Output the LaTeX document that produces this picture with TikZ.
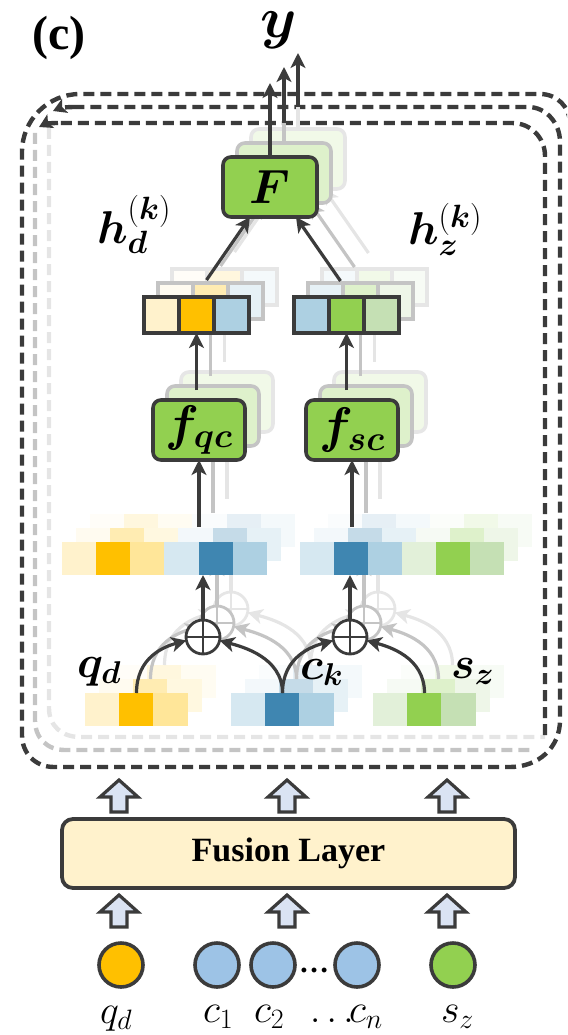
\RequirePackage{fix-cm}
\documentclass[tikz,border=0pt]{standalone}
\usepackage{amsmath}
\usepackage{bm}
\usepackage{fontspec}
\newfontfamily\timesfamily{Liberation Serif}
\usetikzlibrary{arrows.meta,calc}

\definecolor{ink}{HTML}{3B3B3B}
\definecolor{leaf}{HTML}{92D050}
\definecolor{leafpale}{HTML}{C5E0B4}
\definecolor{leafmist}{HTML}{E2F0D9}
\definecolor{amber}{HTML}{FFC000}
\definecolor{amberpale}{HTML}{FFE699}
\definecolor{cream}{HTML}{FFF2CC}
\definecolor{deepblue}{HTML}{3F86B1}
\definecolor{skyblue}{HTML}{ADD0E2}
\definecolor{mistblue}{HTML}{D6E8F1}
\definecolor{dotblue}{HTML}{9DC3E6}
\definecolor{lavender}{HTML}{DAE3F3}

\newcommand\fs[1]{\fontsize{#1}{#1}\selectfont}

% One copy of the per-candidate stage: #1 name suffix, #2 colour strength (percent)
\newcommand\stagelayer[2]{%
  \colorlet{sk}{ink!#2!white}%
  \colorlet{scream}{cream!#2!white}%
  \colorlet{samber}{amber!#2!white}%
  \colorlet{samberp}{amberpale!#2!white}%
  \colorlet{smist}{mistblue!#2!white}%
  \colorlet{sdeep}{deepblue!#2!white}%
  \colorlet{ssky}{skyblue!#2!white}%
  \colorlet{sleafm}{leafmist!#2!white}%
  \colorlet{sleaf}{leaf!#2!white}%
  \colorlet{sleafp}{leafpale!#2!white}%
  % input embeddings
  \node[cell,fill=scream]  (qa#1) at (102.5,709.5) {};
  \node[cell,fill=samber]  (qb#1) at (136.5,709.5) {};
  \node[cell,fill=samberp] (qc#1) at (170.5,709.5) {};
  \node[cell,fill=smist]   (ca#1) at (248.5,709.5) {};
  \node[cell,fill=sdeep]   (cb#1) at (282.5,709.5) {};
  \node[cell,fill=ssky]    (cc#1) at (316.5,709.5) {};
  \node[cell,fill=sleafm]  (sa#1) at (390.5,709.5) {};
  \node[cell,fill=sleaf]   (sb#1) at (424.5,709.5) {};
  \node[cell,fill=sleafp]  (sc#1) at (458.5,709.5) {};
  % paired rows
  \node[cell,fill=scream]  (la#1) at (79.5,558.5) {};
  \node[cell,fill=samber]  (lb#1) at (113.6,558.5) {};
  \node[cell,fill=samberp] (lc#1) at (147.7,558.5) {};
  \node[cell,fill=smist]   (ld#1) at (181.8,558.5) {};
  \node[cell,fill=sdeep]   (le#1) at (215.9,558.5) {};
  \node[cell,fill=ssky]    (lf#1) at (250.0,558.5) {};
  \node[cell,fill=smist]   (ra#1) at (317,558.5) {};
  \node[cell,fill=sdeep]   (rb#1) at (351,558.5) {};
  \node[cell,fill=ssky]    (rc#1) at (385,558.5) {};
  \node[cell,fill=sleafm]  (rd#1) at (419,558.5) {};
  \node[cell,fill=sleaf]   (re#1) at (453,558.5) {};
  \node[cell,fill=sleafp]  (rf#1) at (487,558.5) {};
  % adders
  \node[adder,draw=sk] (pl#1) at (203,637) {};
  \node[adder,draw=sk] (pr#1) at (350,637) {};
  \draw[sk,line width=2.8pt] (pl#1.north) -- (pl#1.south) (pl#1.west) -- (pl#1.east)
                             (pr#1.north) -- (pr#1.south) (pr#1.west) -- (pr#1.east);
  \draw[link,sk] (qb#1.north) .. controls +(0,-36) and +(-22,6) .. (pl#1.192);
  \draw[link,sk] (cb#1.north) .. controls +(0,-36) and +(22,6) .. (pl#1.-12);
  \draw[link,sk] (cb#1.north) .. controls +(0,-36) and +(-22,6) .. (pr#1.192);
  \draw[link,sk] (sb#1.north) .. controls +(0,-36) and +(22,6) .. (pr#1.-12);
  \draw[link,sk] (pl#1.north) -- (pl#1.north |- le#1.south);
  \draw[link,sk] (pr#1.north) -- (pr#1.north |- rb#1.south);
  % pair encoders
  \node[fbox,draw=sk,fill=sleaf] (fq#1) at (199,430) {};
  \node[fbox,draw=sk,fill=sleaf] (fs#1) at (352,430) {};
  \draw[link,sk] ($(fq#1.south |- le#1.north)+(0,-15)$) -- (fq#1.south);
  \draw[link,sk] ($(fs#1.south |- rb#1.north)+(0,-15)$) -- (fs#1.south);
  % pair representations
  \node[vcell,draw=sk,fill=scream] (ha#1) at (161.5,315) {};
  \node[vcell,draw=sk,fill=samber] (hb#1) at (196.5,315) {};
  \node[vcell,draw=sk,fill=ssky]   (hc#1) at (231.5,315) {};
  \node[vcell,draw=sk,fill=ssky]   (za#1) at (311.5,315) {};
  \node[vcell,draw=sk,fill=sleaf]  (zb#1) at (346.5,315) {};
  \node[vcell,draw=sk,fill=sleafp] (zc#1) at (381.5,315) {};
  \draw[link,sk] ($(hb#1.south |- fq#1.north)+(0,-10)$) -- (hb#1.south);
  \draw[link,sk] ($(zb#1.south |- fs#1.north)+(0,-10)$) -- (zb#1.south);
  % fusion of both views
  \node[fbox,minimum width=94pt,draw=sk,fill=sleaf] (F#1) at (270,187) {};
  \draw[link,sk] ($(hb#1.north)+(10,-17)$) -- ([xshift=-20pt]F#1.south);
  \draw[link,sk] ($(zb#1.north)+(-6,-16)$) -- ([xshift=26pt]F#1.south);
}

\begin{document}
\begin{tikzpicture}[x=1pt,y=-1pt,
  cell/.style={minimum width=34.8pt,minimum height=33pt,inner sep=0pt,outer sep=0pt},
  vcell/.style={minimum width=35pt,minimum height=36pt,inner sep=0pt,outer sep=0pt,line width=3.6pt},
  fbox/.style={rounded corners=8pt,minimum width=92pt,minimum height=60pt,inner sep=0pt,outer sep=0pt,line width=3.6pt},
  adder/.style={circle,minimum size=34pt,inner sep=0pt,outer sep=0pt,line width=2.8pt,fill=white},
  link/.style={line width=3.2pt,-{Stealth[length=15pt,width=15pt,inset=4pt]}},
  loopline/.style={ink,line width=4.4pt,dash pattern=on 11pt off 6pt},
  hazeA/.style={ink!30!white,line width=4.4pt,dash pattern=on 11pt off 6pt},
  hazeB/.style={ink!13!white,line width=4.4pt,dash pattern=on 11pt off 6pt},
  looptip/.style={-{Stealth[length=13pt,width=15pt,inset=3pt]}},
  token/.style={circle,minimum size=44pt,inner sep=0pt,draw=ink,line width=3.6pt},
  fusion/.style={rounded corners=11pt,minimum width=453pt,minimum height=69pt,inner sep=0pt,draw=ink,fill=cream,line width=3.8pt},
  lab/.style={inner sep=0pt,outer sep=0pt,anchor=base west},
  upblock/.pic={\draw[fill=lavender,draw=ink,line width=3.2pt,line join=miter]
     (0,0) -- (19,17) -- (8,17) -- (8,32) -- (-8,32) -- (-8,17) -- (-19,17) -- cycle;}
]
\useasboundingbox (0,0) rectangle (567,1035);
\clip (0,0) rectangle (567,1035);

% rails where the output arrows leave the loop
\coordinate (railB) at (0,123);
\coordinate (railC) at (0,107);
\coordinate (tipA) at (0,83);
\coordinate (tipB) at (0,67);
\coordinate (tipC) at (0,53);

% recurrent loop frames
\draw[hazeA] (35,133) -- (35,720) .. controls (35,738) and (47,750) .. (65,750) -- (532,750);
\draw[hazeB] (49,128) -- (49,708) .. controls (49,726) and (62,737) .. (80,737) -- (545,737);
\draw[loopline] (570,260) -- (570,124) .. controls (570,107) and (557,94) .. (540,94) -- (80,94)
  .. controls (48,94) and (22,120) .. (22,152) -- (22,735)
  .. controls (22,753) and (35,767) .. (54,767) -- (510,767)
  .. controls (538,767) and (560,748) .. (560,720) -- (560,142)
  .. controls (560,123) and (546,107) .. (528,107) -- (76,107);
\draw[loopline,looptip] (76,107) .. controls (66,107) and (60,108) .. (53,111);
\draw[loopline] (545,735) -- (545,156) .. controls (545,138) and (531,123) .. (512,123) -- (58,123);
\draw[loopline,looptip] (58,123) .. controls (50,123) and (45,124) .. (39,127);

% stacked copies of the stage, back to front
\begin{scope}[shift={(28,-28)}]\stagelayer{g2}{13}\end{scope}
\begin{scope}[shift={(14,-14)}]\stagelayer{g1}{30}\end{scope}
\begin{scope}\stagelayer{}{100}\end{scope}

% outputs of each copy
\draw[link,ink] (F.north) -- (F.north |- tipA);
\draw[ink!30!white,line width=3.2pt] (Fg1.north) -- (Fg1.north |- railB);
\draw[link,ink] (Fg1.north |- railB) -- (Fg1.north |- tipB);
\draw[ink!13!white,line width=3.2pt] (Fg2.north) -- (Fg2.north |- railC);
\draw[link,ink] (Fg2.north |- railC) -- (Fg2.north |- tipC);

% texts of the stage
\node (tF) at (F.center) {\fs{48}$\bm{F}$};
\node (tfq) at (fq.center) {\fs{50}$\bm{f}_{\bm{qc}}$};
\node (tfs) at (fs.center) {\fs{50}$\bm{f}_{\bm{sc}}$};
\node[lab] (lhd) at (97,243) {\fs{46}$\bm{h}_{\bm{d}}^{(\bm{k})}$};
\node[lab] (lhz) at (408,244) {\fs{46}$\bm{h}_{\bm{z}}^{(\bm{k})}$};
\node[lab] (lq) at (77,677) {\fs{45}$\bm{q}_{\bm{d}}$};
\node[lab] (lc) at (300,679) {\fs{45}$\bm{c}_{\bm{k}}$};
\node[lab] (ls) at (451,678) {\fs{45}$\bm{s}_{\bm{z}}$};
\node[anchor=base,inner sep=0pt] (out) at (279,38) {\fs{58}$\bm{y}$};
\node[anchor=base] (tag) at (59,50) {\timesfamily\bfseries\fs{48}(c)};

% fusion layer and inputs
\node[fusion] (fuse) at (288.5,853.5) {\timesfamily\bfseries\fs{34}Fusion Layer};
\pic (bu1) at (119,780) {upblock};
\pic (bu2) at (287,780) {upblock};
\pic (bu3) at (447,780) {upblock};
\pic (bl1) at (119,895) {upblock};
\pic (bl2) at (287,895) {upblock};
\pic (bl3) at (447,895) {upblock};
\node[token,fill=amber]   (tq) at (121,965) {};
\node[token,fill=dotblue] (t1) at (217,965) {};
\node[token,fill=dotblue] (t2) at (273,965) {};
\node[token,fill=dotblue] (tn) at (357,965) {};
\node[token,fill=leaf]    (ts) at (453,965) {};
\node[anchor=base,inner sep=0pt] (tdots) at (314,972) {\timesfamily\bfseries\fs{30}…};
\node[lab] (nq) at (100,1023) {\fs{40}$q_d$};
\node[lab] (n1) at (203,1022) {\fs{40}$c_1$};
\node[lab] (n2) at (254,1022) {\fs{40}$c_2$};
\node[lab] (nd) at (310,1022) {\fs{38}$\ldots$};
\node[lab] (nn) at (349,1022) {\fs{40}$c_n$};
\node[lab] (ns) at (441,1022) {\fs{40}$s_z$};
\end{tikzpicture}
\end{document}
